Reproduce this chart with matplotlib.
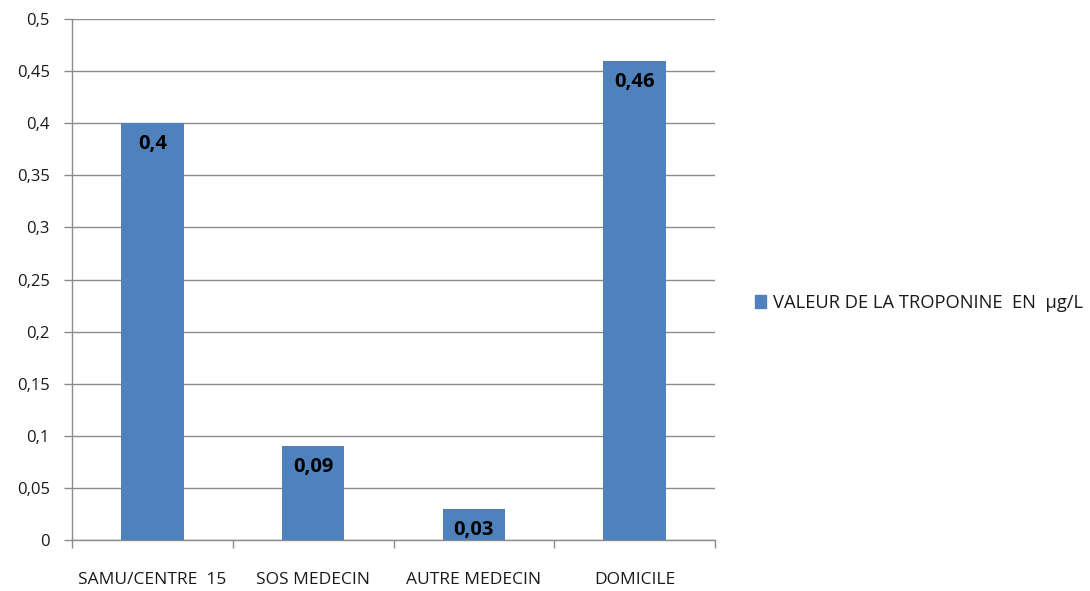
import matplotlib
matplotlib.use("Agg")
import matplotlib.pyplot as plt
from matplotlib.patches import Patch

categories = ["SAMU/CENTRE  15", "SOS MEDECIN", "AUTRE MEDECIN", "DOMICILE"]
values = [0.4, 0.09, 0.03, 0.46]
value_labels = ["0,4", "0,09", "0,03", "0,46"]
yticks = [0, 0.05, 0.1, 0.15, 0.2, 0.25, 0.3, 0.35, 0.4, 0.45, 0.5]
ytick_labels = ["0", "0,05", "0,1", "0,15", "0,2", "0,25", "0,3", "0,35", "0,4", "0,45", "0,5"]
series_name = "VALEUR DE LA TROPONINE  EN  µg/L"

plt.rcParams['font.family'] = ['Open Sans', 'DejaVu Sans']
bar_color = "#4F81BD"
grid_color = "#8C8C8C"
text_color = "#1a1a1a"

fig = plt.figure(figsize=(10.9, 5.91), dpi=100)
ax = fig.add_axes([72/1090, 51/591, (715-72)/1090, (540-19)/591])

x = list(range(len(categories)))
bars = ax.bar(x, values, width=0.39, color=bar_color, zorder=3)
for b, lab in zip(bars, value_labels):
    ax.annotate(lab, (b.get_x() + b.get_width()/2, b.get_height()),
                xytext=(0, -8), textcoords="offset points", ha="center", va="top",
                fontsize=14.5, fontweight="bold", color="black", zorder=4)

ax.set_xlim(-0.5, 3.5)
ax.set_ylim(0, 0.5)
ax.set_yticks(yticks)
ax.set_yticklabels(ytick_labels, fontsize=12, color=text_color)
ax.set_xticks(x)
ax.set_xticklabels(categories, fontsize=12.5, color=text_color)
ax.tick_params(axis='x', length=0, pad=23)
ax.set_xticks([-0.5, 0.5, 1.5, 2.5, 3.5], minor=True)
ax.tick_params(axis='x', which='minor', length=6, color=grid_color, width=1)
ax.tick_params(axis='y', length=6, color=grid_color, width=1, pad=10)

ax.yaxis.grid(True, color=grid_color, linewidth=1, zorder=0)
ax.set_axisbelow(True)
for s in ["top", "right"]:
    ax.spines[s].set_visible(False)
for s in ["left", "bottom"]:
    ax.spines[s].set_color(grid_color)
    ax.spines[s].set_linewidth(1)

handle = Patch(facecolor=bar_color, edgecolor=bar_color)
fig.legend([handle], [series_name], loc="center left", bbox_to_anchor=(738/1090, 1 - 303/591),
           frameon=False, fontsize=13.2, handlelength=0.65, handleheight=0.65, handletextpad=0.35,
           labelcolor=text_color)

fig.savefig("out.png", dpi=100)
